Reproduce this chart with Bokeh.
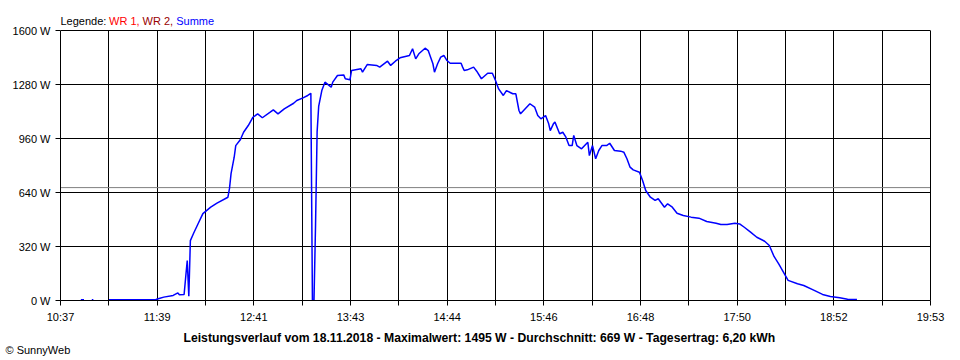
import numpy as np
from bokeh.plotting import figure
from bokeh.models import (Range1d, FixedTicker, CustomJSTickFormatter, PrintfTickFormatter,
                          Span, Label, Title, BoxAnnotation, ColumnDataSource, LinearAxis)
from bokeh.embed import file_html
from bokeh.resources import INLINE

# ---------------- data ----------------
x_start = "10:37"
x_end = "19:53"
x_tick_labels = ["10:37", "11:39", "12:41", "13:43", "14:44", "15:46",
                 "16:48", "17:50", "18:52", "19:53"]
y_ticks = [0, 320, 640, 960, 1280, 1600]
avg_watt = 669

title_text = ("Leistungsverlauf vom 18.11.2018 - Maximalwert: 1495 W - "
              "Durchschnitt: 669 W - Tagesertrag: 6,20 kWh")
legend_parts = ["Legende: ", "WR 1, ", "WR 2, ", "Summe"]
legend_colors = ["black", "#ff0000", "#990000", "#0000ff"]
copyright_text = "© SunnyWeb"

times = ["10:50", "10:52", "10:53", "10:57", "10:58", "10:59",
         "11:08", "11:38", "11:40", "11:43", "11:49", "11:52", "11:53", "11:56",
         "11:57", "11:58", "11:59", "12:00", "12:02", "12:05", "12:08", "12:13",
         "12:17", "12:24", "12:25", "12:26", "12:28", "12:29", "12:32", "12:34",
         "12:37", "12:40", "12:43", "12:46", "12:51", "12:53", "12:56", "13:00",
         "13:06", "13:08", "13:12", "13:15", "13:17", "13:18", "13:19", "13:20",
         "13:21", "13:22", "13:24", "13:26", "13:30", "13:31", "13:34", "13:38",
         "13:39", "13:42", "13:43", "13:49", "13:50", "13:53", "13:59", "14:01",
         "14:06", "14:08", "14:11", "14:14", "14:20", "14:22", "14:24", "14:26",
         "14:30", "14:32", "14:35", "14:36", "14:38", "14:40", "14:42", "14:44",
         "14:46", "14:53", "14:54", "14:55", "14:57", "15:01", "15:03", "15:06",
         "15:10", "15:13", "15:15", "15:17", "15:20", "15:22", "15:26", "15:28",
         "15:30", "15:31", "15:34", "15:37", "15:40", "15:42", "15:44", "15:47",
         "15:49", "15:50", "15:52", "15:53", "15:56", "15:58", "16:00", "16:02",
         "16:04", "16:05", "16:07", "16:10", "16:14", "16:15", "16:17", "16:19",
         "16:21", "16:23", "16:26", "16:28", "16:31", "16:35", "16:37", "16:39",
         "16:41", "16:43", "16:47", "16:49", "16:51", "16:54", "16:57", "16:59",
         "17:03", "17:05", "17:08", "17:11", "17:15", "17:20", "17:25", "17:30",
         "17:36", "17:39", "17:43", "17:48", "17:51", "17:54", "17:58", "18:02",
         "18:07", "18:10", "18:13", "18:16", "18:19", "18:22", "18:28", "18:32",
         "18:38", "18:44", "18:49", "18:55", "19:00", "19:06"]
watts = [4, 4, None, 4, 4, None,
         5, 6, 12, 20, 30, 45, 34, 36,
         138, 237, 25, 355, 397, 456, 515, 553,
         577, 612, 664, 752, 849, 918, 954, 997,
         1037, 1086, 1106, 1083, 1116, 1130, 1106, 1136,
         1169, 1185, 1201, 1215, 1228, 0, 0, 450,
         1000, 1150, 1244, 1294, 1264, 1294, 1333, 1337,
         1314, 1308, 1363, 1373, 1353, 1398, 1393, 1383,
         1418, 1393, 1418, 1438, 1452, 1492, 1432, 1462,
         1495, 1481, 1403, 1353, 1403, 1442, 1452, 1422,
         1406, 1406, 1383, 1363, 1367, 1383, 1359, 1314,
         1347, 1347, 1304, 1254, 1215, 1244, 1225, 1225,
         1126, 1106, 1136, 1166, 1146, 1096, 1077, 1096,
         1047, 1007, 1047, 1057, 988, 997, 968, 918,
         918, 978, 918, 899, 938, 859, 918, 840,
         889, 918, 918, 932, 889, 885, 879, 840,
         790, 774, 760, 711, 652, 612, 593, 603,
         553, 573, 553, 517, 504, 494, 488, 468,
         458, 450, 450, 458, 454, 434, 405, 375,
         351, 326, 261, 217, 168, 119, 99, 89,
         63, 36, 24, 16, 8, 6]


def to_min(s):
    h, m = s.split(":")
    return int(h) * 60 + int(m)


t0, t1 = to_min(x_start), to_min(x_end)
xs = [to_min(t) for t in times]
ys = [np.nan if w is None else w for w in watts]
src = ColumnDataSource(dict(t=xs, w=ys))

n_lab = len(x_tick_labels) - 1
step = (t1 - t0) / n_lab
major = [t0 + i * step for i in range(n_lab + 1)]
minor = [t0 + (i + 0.5) * step for i in range(n_lab)]

FONT = "Liberation Sans"

# layout: plot area 870 x 270 px; the frame is extended 22 px upwards to hold the legend
PLOT_H = 270
EXTRA_TOP = 22
y_top = y_ticks[-1]
y_end = y_top * (PLOT_H + EXTRA_TOP) / PLOT_H

p = figure(width=960, height=360, output_backend="svg", toolbar_location=None,
           x_range=Range1d(t0, t1), y_range=Range1d(0, y_end),
           min_border_left=60, min_border_right=30, min_border_top=8, min_border_bottom=60)
p.background_fill_color = "white"
p.border_fill_color = "white"
p.outline_line_color = None

p.xaxis.ticker = FixedTicker(ticks=major, minor_ticks=minor)
p.xaxis.formatter = CustomJSTickFormatter(
    args=dict(labels=x_tick_labels, t0=t0, step=step),
    code="const i = Math.round((tick - t0) / step); return labels[i] ?? '';")
p.yaxis.ticker = FixedTicker(ticks=y_ticks)
p.yaxis.formatter = PrintfTickFormatter(format="%d W")

for ax in (p.xaxis, p.yaxis):
    ax.major_tick_line_color = "black"
    ax.major_tick_in = 0
    ax.major_tick_out = 5
    ax.major_label_text_font = FONT
    ax.major_label_text_font_size = "11px"
    ax.major_label_text_color = "black"
    ax.major_label_standoff = 5
    ax.axis_line_color = "black"
p.yaxis.bounds = (0, y_top)
p.xaxis.minor_tick_line_color = "black"
p.xaxis.minor_tick_in = 0
p.xaxis.minor_tick_out = 5
p.yaxis.minor_tick_line_color = None

# right border of the plot area: a bare axis line
right_ax = LinearAxis(ticker=FixedTicker(ticks=[]), bounds=(0, y_top),
                      axis_line_color="black", major_tick_line_color=None,
                      minor_tick_line_color=None, major_label_text_font_size="0px")
p.add_layout(right_ax, "right")

p.xgrid.grid_line_color = "black"
p.xgrid.minor_grid_line_color = "black"
p.ygrid.grid_line_color = "black"
xg = p.xgrid[0]
if "cross_bounds" in xg.properties():
    xg.cross_bounds = (0, y_top)

p.add_layout(Span(location=avg_watt, dimension="width", line_color="#808080",
                  line_width=1, level="underlay"))

p.line("t", "w", source=src, line_color="#0000ff", line_width=1.5)

# legend (inside the extended frame, above the plot area)
legend_x = [0, 48.5, 82.1, 115.7]
for txt, col, lx in zip(legend_parts, legend_colors, legend_x):
    p.add_layout(Label(x=lx, y=PLOT_H + EXTRA_TOP - 12, x_units="screen", y_units="screen",
                       text=txt, text_align="left", text_baseline="alphabetic",
                       text_font=FONT, text_font_size="11px", text_color=col,
                       level="overlay"))

# bottom texts
p.add_layout(Title(text=title_text, align="left", offset=123, standoff=6,
                   text_font=FONT, text_font_size="12.2px", text_font_style="bold",
                   text_color="black"), "below")
p.add_layout(Title(text=copyright_text, align="left", offset=-55, standoff=-8,
                   vertical_align="top",
                   text_font=FONT, text_font_size="11px", text_font_style="normal",
                   text_color="black"), "below")

open("out.html", "w").write(file_html(p, INLINE))
